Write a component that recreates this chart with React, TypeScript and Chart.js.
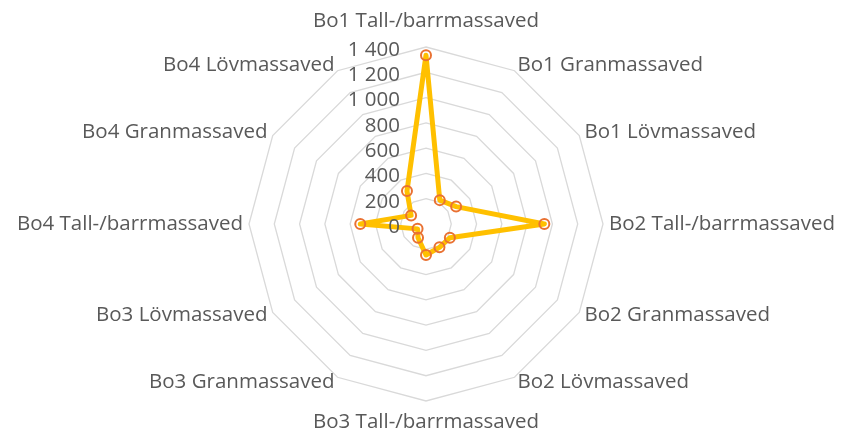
import React, { useEffect, useRef } from "react";
import { Chart, registerables } from "chart.js";

Chart.register(...registerables);

const categories = [
  "Bo1 Tall-/barrmassaved",
  "Bo1 Granmassaved",
  "Bo1 Lövmassaved",
  "Bo2 Tall-/barrmassaved",
  "Bo2 Granmassaved",
  "Bo2 Lövmassaved",
  "Bo3 Tall-/barrmassaved",
  "Bo3 Granmassaved",
  "Bo3 Lövmassaved",
  "Bo4 Tall-/barrmassaved",
  "Bo4 Granmassaved",
  "Bo4 Lövmassaved",
];

const volumes = [1335, 218, 275, 936, 218, 213, 245, 126, 77, 520, 136, 301];

const tickValues = [0, 200, 400, 600, 800, 1000, 1200, 1400];

const fmt = (v: number) => String(v).replace(/\B(?=(\d{3})+(?!\d))/g, " ");

const FONT = "'Open Sans', Lato, sans-serif";
const TEXT_COLOR = "#595959";

const labelsPlugin = {
  id: "customLabels",
  afterDatasetsDraw(chart: any) {
    const scale = chart.scales.r;
    const ctx = chart.ctx;
    ctx.save();
    ctx.font = `20.5px ${FONT}`;
    ctx.fillStyle = TEXT_COLOR;
    ctx.textBaseline = "middle";
    // tick labels, right-aligned left of the vertical axis
    ctx.textAlign = "right";
    tickValues.forEach((v) => {
      const d = scale.getDistanceFromCenterForValue(v);
      ctx.fillText(fmt(v), scale.xCenter - 26, scale.yCenter - d + 3);
    });
    // category labels around the web
    const outer = scale.getDistanceFromCenterForValue(1400) + 6;
    const n = categories.length;
    categories.forEach((label, i) => {
      const p = scale.getPointPosition(i, outer);
      const s = Math.sin((2 * Math.PI * i) / n);
      const c = Math.cos((2 * Math.PI * i) / n);
      let y = p.y;
      if (Math.abs(s) < 0.01) {
        ctx.textAlign = "center";
        y = c > 0 ? p.y - 20 : p.y + 15;
      } else {
        ctx.textAlign = s > 0 ? "left" : "right";
      }
      ctx.fillText(label, p.x, y);
    });
    ctx.restore();
  },
};

export default function App() {
  const ref = useRef<HTMLCanvasElement>(null);
  useEffect(() => {
    document.body.style.margin = "0";
    const chart = new Chart(ref.current!, {
      type: "radar",
      data: {
        labels: categories,
        datasets: [
          {
            data: volumes,
            borderColor: "#FFC000",
            borderWidth: 5,
            borderJoinStyle: "round",
            backgroundColor: "transparent",
            fill: false,
            pointRadius: 5,
            pointBorderWidth: 2,
            pointBorderColor: "#E97132",
            pointBackgroundColor: "transparent",
            tension: 0,
          },
        ],
      },
      options: {
        responsive: false,
        animation: false,
        layout: { padding: { top: 47, bottom: 33, left: 11, right: 0 } },
        plugins: { legend: { display: false }, tooltip: { enabled: false } },
        scales: {
          r: {
            min: 0,
            max: 1400,
            beginAtZero: true,
            angleLines: { display: false },
            grid: { color: "#D9D9D9", lineWidth: 1.3 },
            ticks: { stepSize: 200, display: false },
            pointLabels: { display: false },
          },
        },
      },
      plugins: [labelsPlugin],
    });
    return () => chart.destroy();
  }, []);
  return (
    <div style={{ position: "fixed", left: 0, top: 0, width: 841, height: 434, background: "#fff" }}>
      <canvas ref={ref} width={841} height={434} />
    </div>
  );
}
